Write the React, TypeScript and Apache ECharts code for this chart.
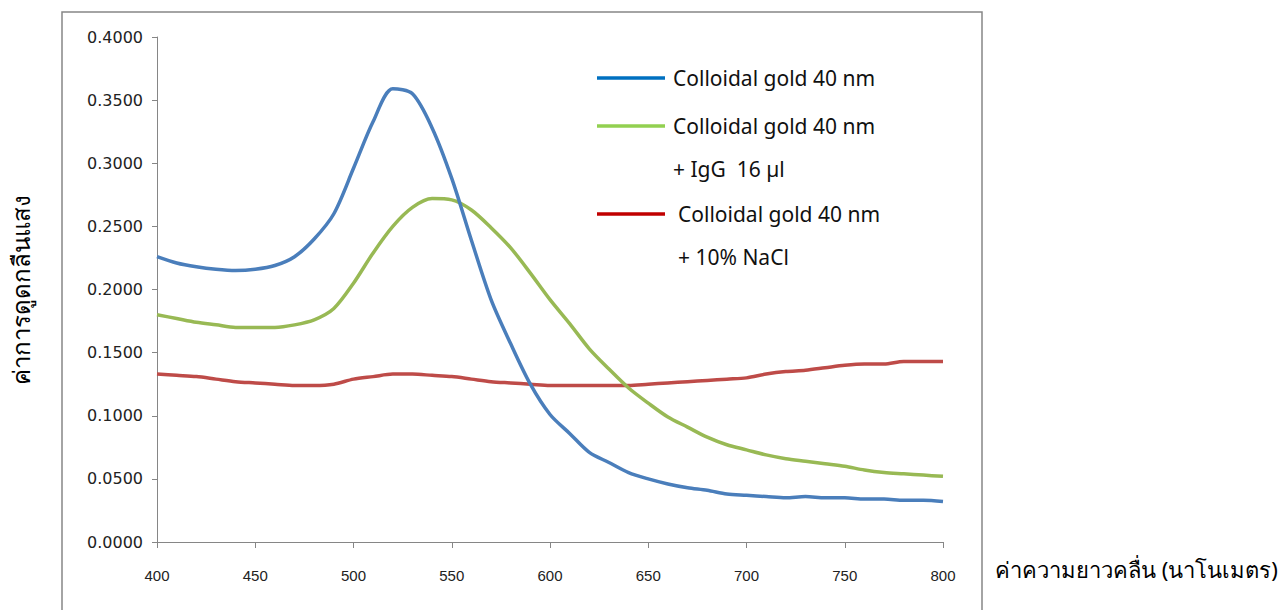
import React, { useEffect, useRef } from "react";
import * as echarts from "echarts";

const wavelengths: number[] = [
  400, 410, 420, 430, 440, 450, 460, 470, 480, 490, 500, 510, 520, 530, 540, 550, 560, 570, 580, 590,
  600, 610, 620, 630, 640, 650, 660, 670, 680, 690, 700, 710, 720, 730, 740, 750, 760, 770, 780, 790, 800,
];

const goldValues: number[] = [
  0.226, 0.221, 0.218, 0.216, 0.215, 0.216, 0.219, 0.226, 0.240, 0.260, 0.296, 0.333, 0.359, 0.355, 0.328,
  0.288, 0.239, 0.192, 0.157, 0.125, 0.101, 0.086, 0.071, 0.063, 0.055, 0.050, 0.046, 0.043, 0.041, 0.038,
  0.037, 0.036, 0.035, 0.036, 0.035, 0.035, 0.034, 0.034, 0.033, 0.033, 0.032,
];

const goldIgGValues: number[] = [
  0.180, 0.177, 0.174, 0.172, 0.170, 0.170, 0.170, 0.172, 0.176, 0.185, 0.205, 0.229, 0.250, 0.265, 0.272,
  0.271, 0.263, 0.249, 0.233, 0.213, 0.192, 0.173, 0.153, 0.137, 0.122, 0.110, 0.099, 0.091, 0.083, 0.077,
  0.073, 0.069, 0.066, 0.064, 0.062, 0.060, 0.057, 0.055, 0.054, 0.053, 0.052,
];

const goldNaClValues: number[] = [
  0.133, 0.132, 0.131, 0.129, 0.127, 0.126, 0.125, 0.124, 0.124, 0.125, 0.129, 0.131, 0.133, 0.133, 0.132,
  0.131, 0.129, 0.127, 0.126, 0.125, 0.124, 0.124, 0.124, 0.124, 0.124, 0.125, 0.126, 0.127, 0.128, 0.129,
  0.130, 0.133, 0.135, 0.136, 0.138, 0.140, 0.141, 0.141, 0.143, 0.143, 0.143,
];

const seriesNames: string[] = [
  "Colloidal gold 40 nm",
  "Colloidal gold 40 nm + IgG  16 µl",
  "Colloidal gold 40 nm + 10% NaCl",
];
const legendLine1: string[] = ["Colloidal gold 40 nm", "Colloidal gold 40 nm", "Colloidal gold 40 nm"];
const legendLine2: string[] = ["", "+ IgG  16 µl", "+ 10% NaCl"];

const lineColors = ["#4A7EBB", "#98B954", "#BE4B48"];
const legendColors = ["#0070C0", "#92D050", "#C00000"];

const xTitle = "ค่าความยาวคลื่น (นาโนเมตร)";
const yTitle = "ค่าการดูดกลืนแสง";

export default function App() {
  const ref = useRef<HTMLDivElement>(null);
  useEffect(() => {
    if (!ref.current) return;
    const chart = echarts.init(ref.current, undefined, { renderer: "svg" });
    const pairs = (vals: number[]) => wavelengths.map((w, i) => [w, vals[i]]);
    const legendFont = "'Noto Sans', sans-serif";
    const legendY = [78, 126, 214];
    const legendTextX = [673, 673, 678];
    const legendGraphics: any[] = [];
    legendY.forEach((y, i) => {
      legendGraphics.push({
        type: "line",
        shape: { x1: 597, y1: y, x2: 665, y2: y },
        style: { stroke: legendColors[i], lineWidth: 3.5 },
      });
      legendGraphics.push({
        type: "text",
        x: legendTextX[i],
        y: y,
        style: {
          text: legendLine1[i],
          fontSize: 21,
          fontFamily: legendFont,
          fill: "#111",
          verticalAlign: "middle",
          align: "left",
        },
      });
      if (legendLine2[i]) {
        legendGraphics.push({
          type: "text",
          x: legendTextX[i],
          y: y + 43,
          style: {
            text: legendLine2[i],
            fontSize: 21,
            fontFamily: legendFont,
            fill: "#111",
            verticalAlign: "middle",
            align: "left",
          },
        });
      }
    });

    chart.setOption({
      animation: false,
      backgroundColor: "#fff",
      grid: { left: 157, right: 342, top: 37, bottom: 68, containLabel: false },
      xAxis: {
        type: "value",
        min: 400,
        max: 800,
        interval: 50,
        axisLine: { show: true, lineStyle: { color: "#868686", width: 1 } },
        axisTick: { show: true, length: 6, lineStyle: { color: "#868686" } },
        axisLabel: {
          margin: 26,
          fontSize: 15,
          color: "#222",
          fontFamily: "'Liberation Sans', sans-serif",
        },
        splitLine: { show: false },
      },
      yAxis: {
        type: "value",
        min: 0,
        max: 0.4,
        interval: 0.05,
        name: yTitle,
        nameLocation: "middle",
        nameRotate: 90,
        nameGap: 125,
        nameTextStyle: {
          fontSize: 24,
          color: "#000",
          fontFamily: "'Noto Sans', sans-serif",
        },
        axisLine: { show: true, lineStyle: { color: "#868686", width: 1 } },
        axisTick: { show: true, length: 5, lineStyle: { color: "#868686" } },
        axisLabel: {
          margin: 14,
          fontSize: 16,
          color: "#222",
          fontFamily: "'DejaVu Sans', sans-serif",
          formatter: (v: number) => v.toFixed(4),
        },
        splitLine: { show: false },
      },
      series: [goldValues, goldIgGValues, goldNaClValues].map((vals, i) => ({
        name: seriesNames[i],
        type: "line",
        data: pairs(vals),
        smooth: 0.3,
        showSymbol: false,
        symbol: "none",
        lineStyle: { color: lineColors[i], width: 3.5 },
        itemStyle: { color: lineColors[i] },
        z: 3 - i,
      })),
      graphic: [
        {
          type: "rect",
          shape: { x: 62, y: 12, width: 920, height: 640 },
          style: { fill: "none", stroke: "#868686", lineWidth: 1.5 },
          silent: true,
        },
        {
          type: "text",
          x: 995,
          y: 569,
          style: {
            text: xTitle,
            fontSize: 22,
            fontFamily: "'Noto Sans', sans-serif",
            fill: "#000",
            verticalAlign: "middle",
            align: "left",
          },
        },
        ...legendGraphics,
      ],
    });
    return () => chart.dispose();
  }, []);
  return (
    <div
      ref={ref}
      style={{ position: "absolute", left: 0, top: 0, width: 1285, height: 610, background: "#fff" }}
    />
  );
}
